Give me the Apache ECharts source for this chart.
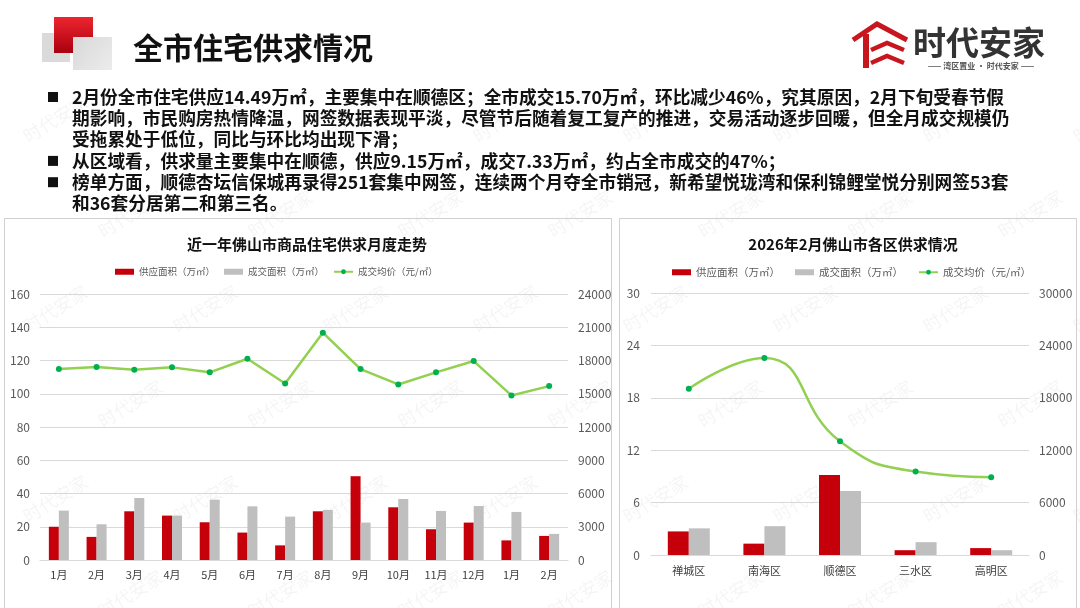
<!DOCTYPE html>
<html><head><meta charset="utf-8">
<script src="https://cdn.jsdelivr.net/npm/echarts@6/dist/echarts.min.js"></script>
<style>html,body{margin:0;padding:0;background:#fff;}#c{width:1080px;height:608px;}</style>
</head><body><div id="c"></div>
<script>
// ---- data ----
const months = ['1月','2月','3月','4月','5月','6月','7月','8月','9月','10月','11月','12月','1月','2月'];
const monthSupply = [20.0,13.9,29.3,26.7,22.7,16.5,8.8,29.3,50.4,31.7,18.5,22.5,11.8,14.49];
const monthDeal   = [29.7,21.5,37.3,26.7,36.3,32.3,26.1,30.1,22.5,36.7,29.5,32.5,28.9,15.70];
const monthPrice  = [17230,17410,17170,17380,16930,18160,15930,20510,17230,15840,16930,17950,14850,15690];

const districts = ['禅城区','南海区','顺德区','三水区','高明区'];
const distSupply = [2.70,1.30,9.15,0.55,0.79];
const distDeal   = [3.05,3.30,7.33,1.47,0.55];
const distPrice  = [19030,22570,13020,9550,8910];

const leftTicks = {min:0,max:160,interval:20};
const leftPriceTicks = {min:0,max:24000,interval:3000};
const rightTicks = {min:0,max:30,interval:6};
const rightPriceTicks = {min:0,max:30000,interval:6000};

const title = '全市住宅供求情况';
const bullets = [
  ['2月份全市住宅供应14.49万㎡，主要集中在顺德区；全市成交15.70万㎡，环比减少46%，究其原因，2月下旬受春节假',
   '期影响，市民购房热情降温，网签数据表现平淡，尽管节后随着复工复产的推进，交易活动逐步回暖，但全月成交规模仍',
   '受拖累处于低位，同比与环比均出现下滑；'],
  ['从区域看，供求量主要集中在顺德，供应9.15万㎡，成交7.33万㎡，约占全市成交的47%；'],
  ['榜单方面，顺德杏坛信保城再录得251套集中网签，连续两个月夺全市销冠，新希望悦珑湾和保利锦鲤堂悦分别网签53套',
   '和36套分居第二和第三名。']
];
const chartTitles = ['近一年佛山市商品住宅供求月度走势','2026年2月佛山市各区供求情况'];
const names = ['供应面积（万㎡）','成交面积（万㎡）','成交均价（元/㎡）'];

// ---- styling ----
const FONT = '"Noto Sans CJK SC","Microsoft YaHei",sans-serif';
const RED = '#C5000B', GRAY = '#BFBFBF', GREEN = '#92D050', DOT = '#00B050';
const axisLabel = {color:'#595959', fontSize:12, fontFamily:FONT, formatter: v => String(v)};

const graphics = [];
// watermarks
for (let r = 0; r < 6; r++) {
  for (let c = 0; c < 8; c++) {
    graphics.push({type:'text', x: 20 + c*150 + (r%2)*75, y: 130 + r*95, rotation: 0.55, z: 0,
      style:{text:'时代安家', font:'18px '+FONT, fill:'rgba(0,0,0,0.045)'}});
  }
}
// header squares
graphics.push({type:'rect', shape:{x:42,y:33,width:28,height:29}, style:{fill:'#DADADA'}, z:10});
graphics.push({type:'rect', shape:{x:54,y:17,width:39,height:36},
  style:{fill:new echarts.graphic.LinearGradient(0,0,0,1,[{offset:0,color:'#EE2530'},{offset:1,color:'#A8000E'}])}, z:11});
graphics.push({type:'rect', shape:{x:73,y:37,width:39,height:33},
  style:{fill:new echarts.graphic.LinearGradient(0,0,1,1,[{offset:0,color:'#D8D8D8'},{offset:1,color:'#ECECEC'}])}, z:12});
graphics.push({type:'text', x:133, y:48, z:12, style:{text:title, font:'bold 30px '+FONT, fill:'#111', textVerticalAlign:'middle'}});
// logo
graphics.push({type:'polyline', z:12, shape:{points:[[853,40],[877,24],[907,40]]}, style:{stroke:'#C8161E', lineWidth:5, fill:null, lineJoin:'miter'}});
graphics.push({type:'rect', z:12, shape:{x:863,y:34,width:6,height:34}, style:{fill:'#C8161E'}});
graphics.push({type:'polyline', z:12, shape:{points:[[871,50],[887,43],[904,50]]}, style:{stroke:'#C8161E', lineWidth:4.5, fill:null}});
graphics.push({type:'polyline', z:12, shape:{points:[[871,63],[887,56],[904,63]]}, style:{stroke:'#C8161E', lineWidth:4.5, fill:null}});
graphics.push({type:'text', x:913, y:42, z:12, style:{text:'时代安家', font:'bold 33px '+FONT, fill:'#333', textVerticalAlign:'middle'}});
graphics.push({type:'text', x:981, y:66, z:12, style:{text:'—— 湾区置业 · 时代安家 ——', font:'bold 8px '+FONT, fill:'#555', textAlign:'center', textVerticalAlign:'middle'}});
// bullets
let ly = 97;
bullets.forEach(par => {
  graphics.push({type:'rect', z:12, shape:{x:48,y:ly-5,width:10,height:10}, style:{fill:'#111'}});
  par.forEach(line => {
    graphics.push({type:'text', x:72, y:ly, z:12, style:{text:line, font:'bold 17.7px '+FONT, fill:'#111', textVerticalAlign:'middle'}});
    ly += 21.3;
  });
});
// panels
graphics.push({type:'rect', z:1, shape:{x:4.5,y:218.5,width:607,height:400}, style:{fill:'none', stroke:'#D0D0D0', lineWidth:1}});
graphics.push({type:'rect', z:1, shape:{x:619.5,y:218.5,width:457,height:400}, style:{fill:'none', stroke:'#D0D0D0', lineWidth:1}});

function legendFor(left, fs, gap) {
  return {left:left, top:267, padding:0, itemWidth:19, itemHeight:6, itemGap:gap, width:500,
    textStyle:{color:'#595959', fontSize:fs, fontFamily:FONT},
    data:[{name:names[0], icon:'rect'},{name:names[1], icon:'rect'},{name:names[2]}]};
}

const option = {
  animation:false,
  backgroundColor:'#fff',
  textStyle:{fontFamily:FONT},
  graphic: graphics,
  title:[
    {text:chartTitles[0], left:302, top:232, textAlign:'center', textStyle:{fontSize:15, fontWeight:'bold', color:'#111', fontFamily:FONT}},
    {text:chartTitles[1], left:848, top:232, textAlign:'center', textStyle:{fontSize:15, fontWeight:'bold', color:'#111', fontFamily:FONT}}
  ],
  legend:[ legendFor(115, 9.5, 9), legendFor(672, 10.5, 15) ],
  grid:[
    {left:40, right:512, top:294, bottom:48},
    {left:651, right:51, top:293, bottom:53}
  ],
  xAxis:[
    {type:'category', gridIndex:0, data:months, axisTick:{show:false}, axisLine:{lineStyle:{color:'#D9D9D9'}}, axisLabel:{margin:9, fontSize:11, color:'#404040', fontFamily:FONT}},
    {type:'category', gridIndex:1, data:districts, axisTick:{show:false}, axisLine:{lineStyle:{color:'#D9D9D9'}}, axisLabel:{margin:10, fontSize:11, color:'#404040', fontFamily:FONT}}
  ],
  yAxis:[
    Object.assign({type:'value', gridIndex:0, position:'left', axisLabel:Object.assign({margin:10},axisLabel), splitLine:{lineStyle:{color:'#D9D9D9'}}, axisLine:{show:false}, axisTick:{show:false}}, leftTicks),
    Object.assign({type:'value', gridIndex:0, position:'right', axisLabel:Object.assign({margin:10},axisLabel), splitLine:{show:false}, axisLine:{show:false}, axisTick:{show:false}}, leftPriceTicks),
    Object.assign({type:'value', gridIndex:1, position:'left', axisLabel:Object.assign({margin:11},axisLabel), splitLine:{lineStyle:{color:'#D9D9D9'}}, axisLine:{show:false}, axisTick:{show:false}}, rightTicks),
    Object.assign({type:'value', gridIndex:1, position:'right', axisLabel:Object.assign({margin:10},axisLabel), splitLine:{show:false}, axisLine:{show:false}, axisTick:{show:false}}, rightPriceTicks)
  ],
  series:[
    {name:names[0], type:'bar', xAxisIndex:0, yAxisIndex:0, data:monthSupply, barWidth:10, barGap:'0%', itemStyle:{color:RED}},
    {name:names[1], type:'bar', xAxisIndex:0, yAxisIndex:0, data:monthDeal, barWidth:10, barGap:'0%', itemStyle:{color:GRAY}},
    {name:names[2], type:'line', xAxisIndex:0, yAxisIndex:1, data:monthPrice, symbol:'circle', symbolSize:6, lineStyle:{color:GREEN, width:2.5}, itemStyle:{color:DOT}},
    {name:names[0], type:'bar', xAxisIndex:1, yAxisIndex:2, data:distSupply, barWidth:21, barGap:'0%', itemStyle:{color:RED}},
    {name:names[1], type:'bar', xAxisIndex:1, yAxisIndex:2, data:distDeal, barWidth:21, barGap:'0%', itemStyle:{color:GRAY}},
    {name:names[2], type:'line', xAxisIndex:1, yAxisIndex:3, data:distPrice, smooth:0.5, symbol:'circle', symbolSize:6, lineStyle:{color:GREEN, width:2.5}, itemStyle:{color:DOT}}
  ]
};
const chart = echarts.init(document.getElementById('c'), null, {renderer:'canvas'});
chart.setOption(option);
</script>
</body></html>
